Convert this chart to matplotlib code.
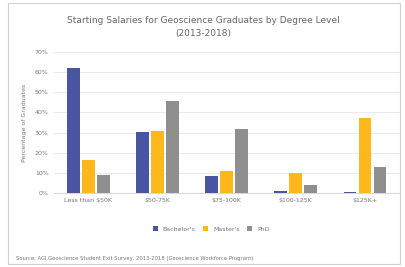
import numpy as np
import matplotlib
matplotlib.use("Agg")
import matplotlib.pyplot as plt
from matplotlib.patches import Rectangle

# salary ranges and share of graduates for each degree level (percent)
categories = ["Less than $50K", "$50-75K", "$75-100K", "$100-125K", "$125K+"]
bachelors = [62, 30.5, 8.5, 1, 0.5]
masters = [16.5, 31, 11, 10, 37.5]
phd = [9, 45.5, 32, 4, 13]
series_names = ["Bachelor's", "Master's", "PhD"]
colors = ["#4a55a2", "#ffb81c", "#8f8f8f"]
yticks = [0, 10, 20, 30, 40, 50, 60, 70]

fig = plt.figure(figsize=(4.06, 2.67), dpi=100)
ax = fig.add_axes([0.132, 0.277, 0.852, 0.528])

x = np.arange(len(categories))
step = 0.217
width = 0.185
for i, (vals, name, col) in enumerate(zip([bachelors, masters, phd], series_names, colors)):
	ax.bar(x + (i - 1)*step, vals, width, color=col, label=name, zorder=3)

ax.set_xlim(-0.5, len(categories) - 0.5)
ax.set_ylim(0, 70)
ax.set_yticks(yticks)
ax.set_yticklabels([f"{t}%" for t in yticks])
ax.set_xticks(x)
ax.set_xticklabels(categories)
ax.tick_params(axis="both", labelsize=4.5, colors="#777777", length=0)
ax.yaxis.grid(True, color="#e6e6e6", linewidth=0.6, zorder=0)
for side in ["top", "right", "left"]:
	ax.spines[side].set_visible(False)
ax.spines["bottom"].set_color("#d9d9d9")
ax.set_ylabel("Percentage of Graduates", fontsize=4.5, color="#777777", labelpad=6)

fig.text(0.5, 0.925, "Starting Salaries for Geoscience Graduates by Degree Level",
	ha="center", va="center", fontsize=6.5, color="#666666")
fig.text(0.5, 0.875, "(2013-2018)", ha="center", va="center", fontsize=6.5, color="#666666")

fig.legend(loc="center", bbox_to_anchor=(0.52, 0.142), ncol=3, fontsize=4.5,
	frameon=False, handlelength=0.8, handleheight=0.8, columnspacing=1.2,
	labelcolor="#777777")

fig.text(0.04, 0.033, "Source: AGI Geoscience Student Exit Survey, 2013-2018 (Geoscience Workforce Program)",
	ha="left", va="center", fontsize=3.8, color="#777777")

# light border round the whole chart
fig.patches.append(Rectangle((0.02, 0.012), 0.965, 0.975, transform=fig.transFigure,
	fill=False, edgecolor="#d0d0d0", linewidth=0.8))

fig.savefig("out.png", dpi=100)
